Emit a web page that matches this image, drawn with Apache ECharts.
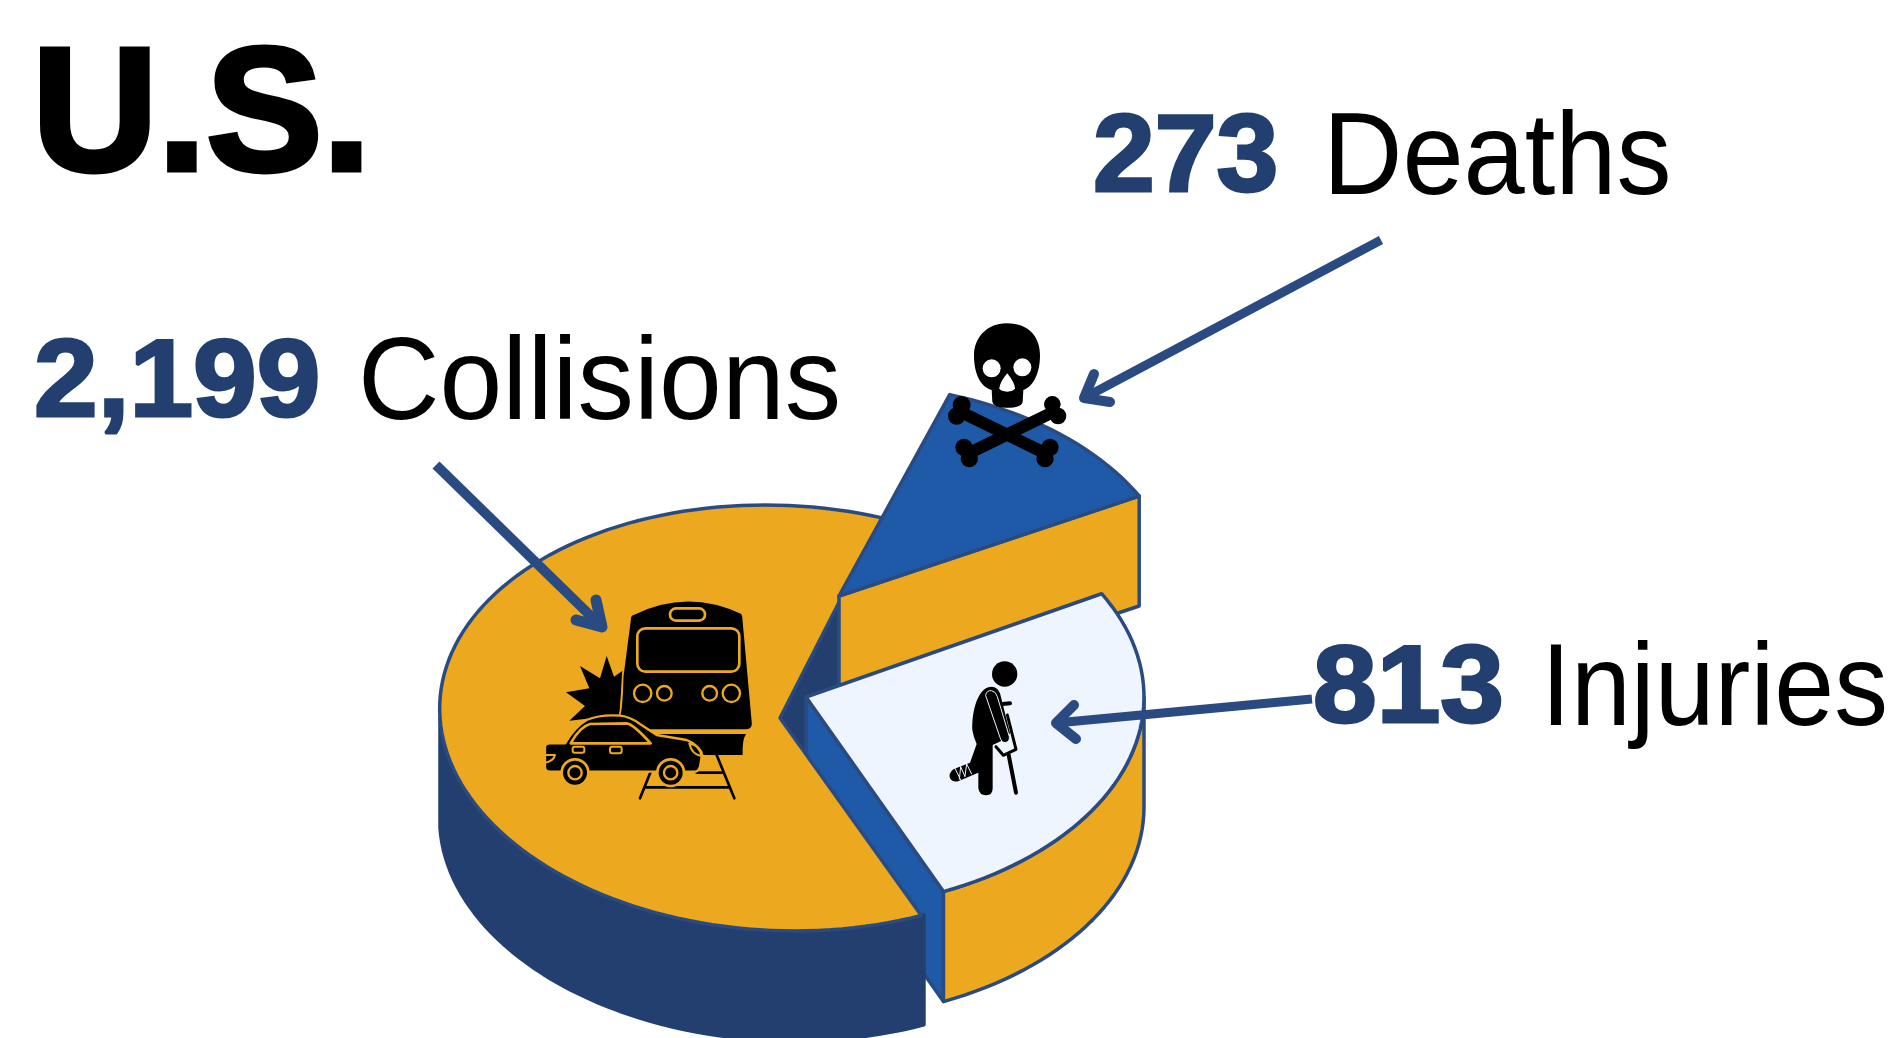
<!DOCTYPE html>
<html><head><meta charset="utf-8"><title>U.S.</title>
<style>html,body{margin:0;padding:0;background:#fff;overflow:hidden}#c{width:1900px;height:1038px}</style>
<script src="https://cdn.jsdelivr.net/npm/echarts@6/dist/echarts.min.js"></script>
</head><body><div id="c"></div>
<script>
// --- data ---
const titleText = 'U.S.';
const sliceNames = ['Collisions', 'Deaths', 'Injuries'];
const sliceValues = [2199, 273, 813];
// slice sweeps as actually drawn in the reference (degrees)
const sliceSweeps = [222, 43, 95];

// --- layout / style constants ---
const PIE = {cx: 780, cy: 718, ry: 213, depth: 110, start: 66};
const SLICE_RX = [340, 340, 338];
const SLICE_SHEAR = [15, 0, 0];
const SLICE_NUDGE = [2, 1, 0];
const EXPLODE = [[0, 0], [59, -122], [26, -21]];
const GOLD = '#ECA91F', NAVY = '#223F70', BLUE = '#1F5AA8', PALE = '#EEF5FE', EDGE = '#2A4B82';
const FONT = '"Liberation Sans", Arial, Helvetica, sans-serif';
const LABEL_LAYOUT = [
  {numX: 34, numScale: 1.03, nameX: 358, nameScale: 0.965, base: 419},
  {numX: 1093, numScale: 1.0, nameX: 1323, nameScale: 0.94, base: 194},
  {numX: 1313, numScale: 1.03, nameX: 1541, nameScale: 0.92, base: 725}
];

function arc(i, cx, cy, a0, a1) {
  const pts = [], n = Math.max(2, Math.ceil(Math.abs(a1 - a0) / 2));
  for (let k = 0; k <= n; k++) {
    const a = (a0 + (a1 - a0) * k / n) * Math.PI / 180;
    pts.push([cx + SLICE_RX[i] * Math.cos(a) + SLICE_SHEAR[i] * Math.sin(a), cy + PIE.ry * Math.sin(a)]);
  }
  return pts;
}
function poly(points, fill, z2, lw) {
  return {type: 'polygon', z2, shape: {points}, style: {fill, stroke: fill === NAVY ? NAVY : EDGE, lineWidth: lw || 3.5, lineJoin: 'round'}};
}
function band(i, cx, cy, a0, a1) {
  const top = arc(i, cx, cy, a0, a1);
  const bot = top.map(p => [p[0], p[1] + PIE.depth]).reverse();
  return top.concat(bot);
}
function cutFace(cx, cy, p) {
  return [[cx, cy], p, [p[0], p[1] + PIE.depth], [cx, cy + PIE.depth]];
}
function renderSlice(params, api) {
  const i = params.dataIndex;
  const cumul = sliceSweeps.slice(0, i).reduce((s, v) => s + v, 0);
  const a0 = PIE.start + cumul + SLICE_NUDGE[i], a1 = a0 + api.value(1);
  const cx = PIE.cx + EXPLODE[i][0], cy = PIE.cy + EXPLODE[i][1];
  const rim = arc(i, cx, cy, a0, a1);
  const top = [[cx, cy]].concat(rim);
  const end = rim[rim.length - 1];
  const kids = [];
  if (i === 0) {
    kids.push(poly(cutFace(cx, cy, end), NAVY, 1));
    kids.push(poly(band(i, cx, cy, a0 - 0.5, 180), NAVY, 3));
    kids.push(poly(top, GOLD, 4));
  } else if (i === 1) {
    kids.push(poly(cutFace(cx, cy, end), GOLD, 5));
    kids.push(poly(top, BLUE, 6));
  } else {
    kids.push(poly(cutFace(cx, cy, end), BLUE, 2));
    kids.push(poly(band(i, cx, cy, 0, a1 - 360), GOLD, 2));
    kids.push(poly(top, PALE, 7));
  }
  return {type: 'group', children: kids};
}

// --- decoration helpers ---
const path = (d, fill, stroke, lw) => ({type: 'path', shape: {pathData: d}, style: {fill: fill || 'none', stroke: stroke || 'none', lineWidth: lw || 0, lineCap: 'round', lineJoin: 'round'}});
const circ = (cx, cy, r, fill, stroke, lw) => ({type: 'circle', shape: {cx, cy, r}, style: {fill, stroke: stroke || 'none', lineWidth: lw || 0}});
const seg = (x1, y1, x2, y2, stroke, lw) => ({type: 'line', shape: {x1, y1, x2, y2}, style: {stroke, lineWidth: lw, lineCap: 'round'}});
const rrect = (x, y, width, height, r, fill, stroke, lw) => ({type: 'rect', shape: {x, y, width, height, r}, style: {fill, stroke, lineWidth: lw}});
const icon = (x, y, children) => ({type: 'group', x, y, scaleX: 1 / 3, scaleY: 1 / 3, children});

function arrow(sx, sy, tx, ty, a1, a2, lw) {
  return {type: 'group', z2: 20, children: [
    {type: 'line', z2: 20, shape: {x1: sx, y1: sy, x2: tx, y2: ty}, style: {stroke: EDGE, lineWidth: lw, lineCap: 'butt'}},
    {type: 'polyline', z2: 20, shape: {points: [a1, [tx, ty], a2]}, style: {stroke: EDGE, fill: 'none', lineWidth: lw + 1, lineCap: 'round', lineJoin: 'round'}}
  ]};
}
function textEl(text, x, base, size, weight, fill, scaleX, heavy) {
  return {type: 'text', z: 100, x, y: base - 0.28 * size, scaleX, style: {
    text, font: weight + ' ' + size + 'px ' + FONT, fill, stroke: heavy ? fill : null, lineWidth: heavy || 0, verticalAlign: 'middle', align: 'left'
  }};
}

const train = () => icon(530, 580, [
  path('M230 228 L252 290 L278 272 L268 405 L118 422 L165 378 L108 337 L178 325 L150 258 L210 295 Z', '#000'),
  path('M305 105 Q470 22 635 100 Q640 105 640 120 L668 430 Q668 450 650 450 L268 450 L268 405 Q275 400 278 290 L300 120 Q300 110 305 105 Z', '#000', GOLD, 5),
  path('M290 462 L648 462 Q636 480 638 525 L400 525 Z', '#000'),
  rrect(322, 145, 306, 130, 24, '#000', GOLD, 8),
  rrect(420, 85, 105, 37, 18, '#000', GOLD, 8),
  circ(338, 340, 26, '#000', GOLD, 7), circ(403, 340, 22, '#000', GOLD, 7),
  circ(539, 340, 22, '#000', GOLD, 7), circ(604, 340, 26, '#000', GOLD, 7),
  seg(560, 525, 613, 655, '#000', 8), seg(362, 575, 330, 655, '#000', 8),
  seg(345, 622, 598, 622, '#000', 8), seg(500, 578, 580, 578, '#000', 8),
  path('M45 500 Q47 490 60 490 L105 490 Q135 440 170 420 Q210 403 270 407 Q300 410 330 432 L380 465 L470 480 Q510 495 515 530 L510 560 Q505 575 495 575 L60 575 Q45 575 45 560 Z', '#000', GOLD, 7),
  path('M122 490 Q150 440 180 432 L290 430 Q310 432 362 490 Z', '#000', GOLD, 8),
  rrect(128, 500, 35, 18, 6, '#000', GOLD, 6), rrect(240, 500, 35, 20, 6, '#000', GOLD, 6),
  path('M43 525 L75 525 Q70 545 43 548', 'none', GOLD, 6),
  path('M478 490 Q515 500 518 528 Q485 525 478 490 Z', 'none', GOLD, 6),
  circ(135, 578, 44, GOLD), circ(135, 578, 36, '#000'), circ(135, 578, 20, '#000', GOLD, 7),
  circ(422, 578, 44, GOLD), circ(422, 578, 36, '#000'), circ(422, 578, 20, '#000', GOLD, 7)
]);

const skull = () => icon(930, 310, [
  path('M230 40 C300 40 330 85 330 135 C330 190 310 230 280 240 L278 275 Q275 293 230 293 Q190 293 187 275 L185 240 C150 230 132 190 132 135 C132 85 170 40 230 40 Z', '#000'),
  circ(185, 175, 27, '#fff'), circ(277, 172, 27, '#fff'),
  path('M232 190 Q255 220 255 235 Q250 245 232 245 Q212 245 208 235 Q210 215 232 190 Z', '#fff'),
  seg(90, 305, 350, 432, '#000', 36), seg(372, 305, 112, 432, '#000', 36),
  circ(95, 285, 27, '#000'), circ(80, 318, 26, '#000'),
  circ(367, 283, 25, '#000'), circ(384, 318, 25, '#000'),
  circ(102, 412, 26, '#000'), circ(118, 446, 26, '#000'),
  circ(360, 412, 26, '#000'), circ(345, 446, 26, '#000')
]);

const walker = () => icon(920, 640, [
  circ(254, 102, 38, '#000'),
  path('M205 142 C175 150 155 210 157 270 Q160 290 170 312 L150 368 L100 388 Q85 400 90 415 Q100 430 118 422 L175 398 L175 445 Q178 466 198 466 Q218 466 218 445 L218 315 L250 300 L270 280 L240 160 Q230 135 205 142 Z', '#000'),
  path('M197 165 Q200 150 215 152 Q228 155 232 170 L268 290 Q270 305 255 308 Q245 308 242 298 Z', '#000', PALE, 3),
  seg(248, 192, 270, 190, '#000', 12),
  path('M262 225 L288 328 L250 346 L228 320', 'none', '#000', 9),
  seg(266, 345, 288, 458, '#000', 12),
  seg(105, 385, 122, 420, PALE, 3), seg(122, 380, 135, 410, PALE, 3), seg(122, 380, 118, 418, PALE, 3),
  seg(140, 372, 155, 402, PALE, 3), seg(140, 372, 135, 408, PALE, 3)
]);

function renderDecor() {
  return {type: 'group', children: [
    train(), skull(), walker(),
    arrow(436, 465, 602, 627, [596, 600], [576, 620], 10),
    arrow(1381, 240, 1084, 398, [1094, 374], [1110, 402], 9),
    arrow(1312, 699, 1056, 723, [1074, 705], [1076, 739], 9)
  ]};
}

const labelEls = [];
sliceNames.forEach((name, i) => {
  const L = LABEL_LAYOUT[i];
  labelEls.push(textEl(sliceValues[i].toLocaleString('en-US'), L.numX, L.base - 3, 110, 'bold', NAVY, L.numScale * 1.01, 3));
  labelEls.push(textEl(name, L.nameX, L.base, 117, 'normal', '#000', L.nameScale));
});

const chart = echarts.init(document.getElementById('c'), null, {renderer: 'canvas'});
chart.setOption({
  animation: false,
  backgroundColor: '#fff',
  series: [
    {type: 'custom', coordinateSystem: 'none', renderItem: renderSlice, silent: true, clip: false, z: 2,
      data: sliceNames.map((name, i) => ({name, value: [sliceValues[i], sliceSweeps[i]]}))},
    {type: 'custom', coordinateSystem: 'none', renderItem: renderDecor, silent: true, clip: false, z: 3, data: [0]}
  ],
  graphic: {elements: [
    textEl(titleText, 32, 171, 176, 'bold', '#000', 0.99, 5),
    ...labelEls
  ]}
});
</script></body></html>
